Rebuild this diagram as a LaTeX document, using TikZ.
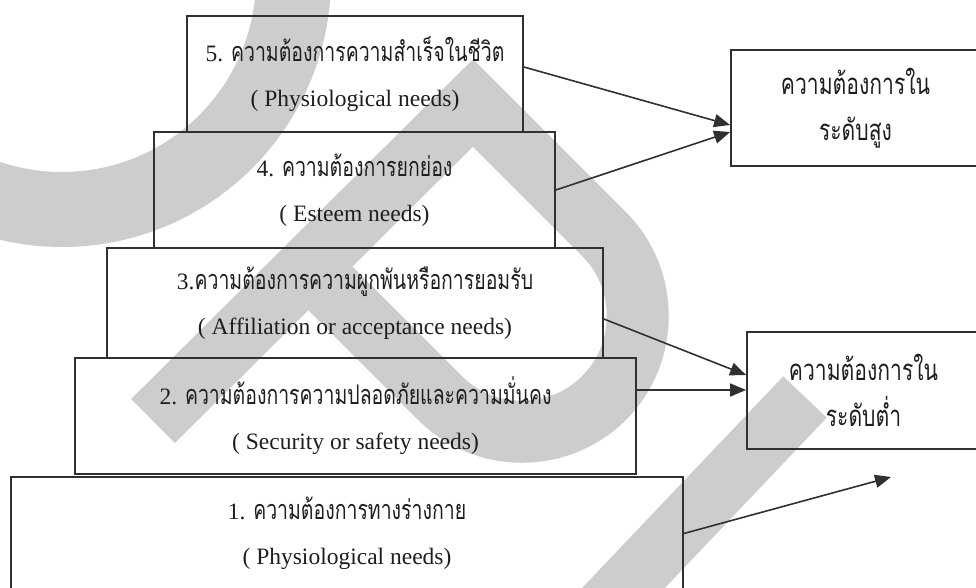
\documentclass[tikz,border=0pt]{standalone}
\usepackage{fontspec}
\setmainfont{Liberation Serif}
\newfontfamily\thaifont[Script=Thai,FakeStretch=0.72,Scale=1.15]{Loma}
\newcommand\thx[1]{{\thaifont #1}}
\usetikzlibrary{arrows.meta,calc}
\definecolor{wm}{RGB}{205,205,205}
\definecolor{ln}{RGB}{48,48,48}
\definecolor{tx}{RGB}{30,30,30}
\begin{document}
\begin{tikzpicture}[x=1pt,y=-1pt,
  wmband/.style={draw=wm,line width=62pt,line cap=butt,line join=miter},
  lvl/.style={draw=ln,line width=1.8pt,align=center,text=tx,inner sep=0pt,
    font=\fontsize{23.5}{45}\selectfont},
  rbox/.style={draw=ln,line width=1.8pt,align=center,text=tx,inner sep=0pt,
    font=\fontsize{25.5}{46}\selectfont},
  arr/.style={draw=ln,line width=1.6pt,-{Triangle[length=16pt,width=13pt]}}]
\useasboundingbox (0,0) rectangle (976,587);
\clip (0,0) rectangle (976,587);
% watermark
\draw[draw=wm,line width=75pt] (62,-22) circle[radius=231.5pt];
\draw[wmband] (153,421) -- (473,103) -- (604,234)
  .. controls (649,279) and (649,353) .. (604,398)
  .. controls (559,443) and (485,443) .. (440,398) -- (309,267);
\draw[wmband,line width=60pt] (805,397) -- (593,620);
% levels
\node[lvl,minimum width=336pt,minimum height=116pt] (b5) at (355,74)
  {5. \thx{ความต้องการความสำเร็จในชีวิต}\\( Physiological needs)};
\node[lvl,minimum width=401pt,minimum height=116pt] (b4) at (354.5,190)
  {4. \thx{ความต้องการยกย่อง}\\( Esteem needs)};
\node[lvl,minimum width=496pt,minimum height=110pt] (b3) at (355,303)
  {3.\thx{ความต้องการความผูกพันหรือการยอมรับ}\\( Affiliation or acceptance needs)};
\node[lvl,minimum width=561pt,minimum height=116pt] (b2) at (355.5,416)
  {2. \thx{ความต้องการความปลอดภัยและความมั่นคง}\\( Security or safety needs)};
\node[lvl,minimum width=672pt,minimum height=113pt] (b1) at (347,533.5)
  {1. \thx{ความต้องการทางร่างกาย}\\( Physiological needs)};
% right boxes
\node[rbox,minimum width=249pt,minimum height=116pt] (hi) at (855.5,108)
  {\thx{ความต้องการใน}\\\thx{ระดับสูง}};
\node[rbox,minimum width=233pt,minimum height=117pt] (lo) at (863.5,390.5)
  {\thx{ความต้องการใน}\\\thx{ระดับต่ำ}};
\coordinate (a5end) at (891,477);
% arrows
\draw[arr] ([yshift=7pt]b5.east) -- ([yshift=-17pt]hi.west);
\draw[arr] (b4.east) -- ([yshift=-24pt]hi.west);
\draw[arr] ([yshift=-16pt]b3.east) -- ([yshift=15.5pt]lo.west);
\draw[arr] ([yshift=26pt]b2.east) -- ([yshift=26pt]b2.east -| lo.west);
\draw[arr] (b1.east) -- (a5end);
\end{tikzpicture}
\end{document}
